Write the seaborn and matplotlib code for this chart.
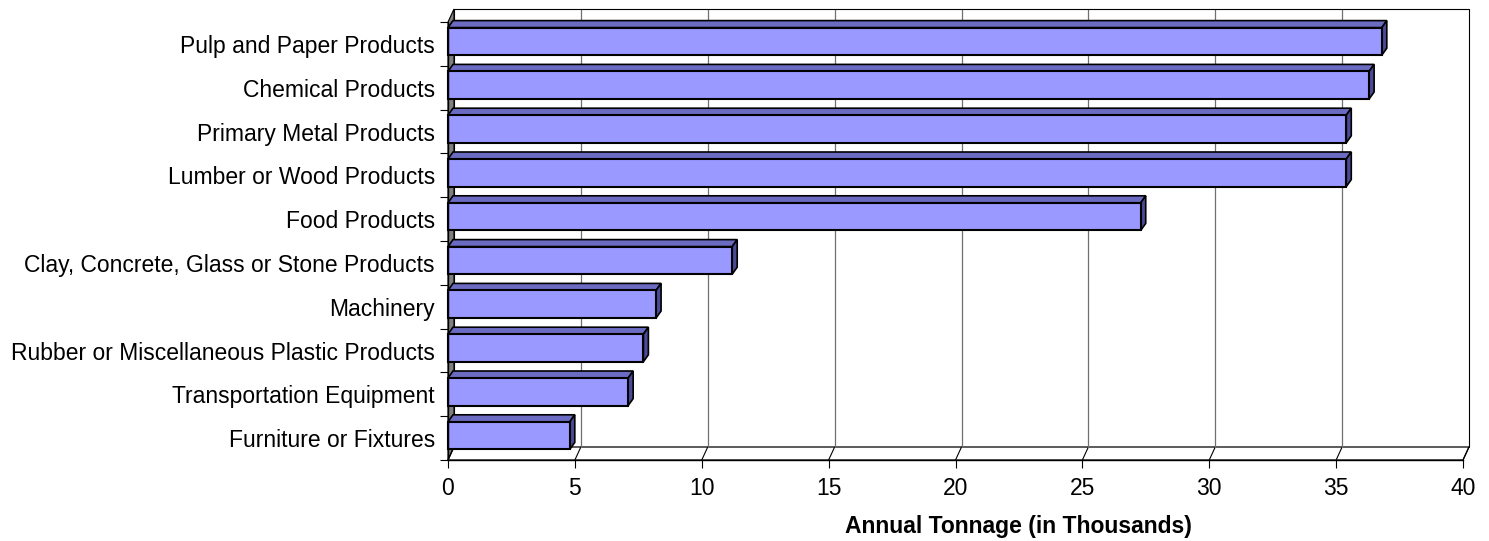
import numpy as np
import pandas as pd
import matplotlib
matplotlib.use("Agg")
import matplotlib.pyplot as plt
import seaborn as sns
from matplotlib.patches import Polygon
from matplotlib.transforms import ScaledTranslation, IdentityTransform
from matplotlib.ticker import FixedLocator

# ---- data -------------------------------------------------------------
categories = [
    "Pulp and Paper Products",
    "Chemical Products",
    "Primary Metal Products",
    "Lumber or Wood Products",
    "Food Products",
    "Clay, Concrete, Glass or Stone Products",
    "Machinery",
    "Rubber or Miscellaneous Plastic Products",
    "Transportation Equipment",
    "Furniture or Fixtures",
]
tonnage = [36.8, 36.3, 35.4, 35.4, 27.3, 11.2, 8.2, 7.7, 7.1, 4.8]
x_ticks = [0, 5, 10, 15, 20, 25, 30, 35, 40]
x_label = "Annual Tonnage (in Thousands)"

# ---- style ------------------------------------------------------------
FRONT = "#9999FF"
TOP = "#6B6BC2"
SIDE = "#4A4A96"
WALL_SIDE = "#808080"
GRID = "#707070"
FS = 16.5

sns.set_theme(style="white")
plt.rcParams["font.family"] = ["Liberation Sans", "DejaVu Sans"]

W, H = 1489, 541
DPI = 100
fig = plt.figure(figsize=(W / DPI, H / DPI), dpi=DPI)
fig.patch.set_facecolor("white")
ax = fig.add_axes([448 / W, (H - 460) / H, 1015 / W, 438 / H])

df = pd.DataFrame({"category": categories, "tonnage": tonnage})
sns.barplot(data=df, x="tonnage", y="category", orient="h", color=FRONT,
            saturation=1, width=0.63, edgecolor="black", linewidth=1.5,
            ax=ax, zorder=4)
bars = list(ax.patches)

n = len(categories)
ax.set_xlim(x_ticks[0], x_ticks[-1])
ax.set_ylim(n - 0.5, -0.5)
ax.autoscale(False)
ax.patch.set_visible(False)

# depth offsets (pixels) for the chart walls and for the bars
WALL_DX, WALL_DY = 6, 13
BAR_DX, BAR_DY = 5, 7
LIFT = 2.5

wall = ax.transData + ScaledTranslation(WALL_DX / DPI, WALL_DY / DPI, fig.dpi_scale_trans)
lift = ax.transData + ScaledTranslation(0, LIFT / DPI, fig.dpi_scale_trans)
ident = IdentityTransform()
to_disp = ax.transData.transform

ybot, ytop = n - 0.5, -0.5
xmin, xmax = x_ticks[0], x_ticks[-1]

# left side wall (gray)
(fx, fyb), (_, fyt) = to_disp((xmin, ybot)), to_disp((xmin, ytop))
ax.add_artist(Polygon([(fx, fyb), (fx, fyt), (fx + WALL_DX, fyt + WALL_DY),
                       (fx + WALL_DX, fyb + WALL_DY)], closed=True,
                      facecolor=WALL_SIDE, edgecolor="black", lw=0.8,
                      transform=ident, clip_on=False, zorder=0.5))

# floor (white)
(gx0, gy), (gx1, _) = to_disp((xmin, ybot)), to_disp((xmax, ybot))
ax.add_artist(Polygon([(gx0, gy), (gx1, gy), (gx1 + WALL_DX, gy + WALL_DY),
                       (gx0 + WALL_DX, gy + WALL_DY)], closed=True,
                      facecolor="white", edgecolor="black", lw=0.9,
                      transform=ident, clip_on=False, zorder=0.5))
for t in x_ticks:
    tx, ty = to_disp((t, ybot))
    ax.add_artist(plt.Line2D([tx, tx + WALL_DX], [ty, ty + WALL_DY], color="black",
                             lw=0.8, transform=ident, clip_on=False, zorder=0.6))

# back wall with vertical gridlines
for t in x_ticks[1:-1]:
    ax.plot([t, t], [ybot, ytop], transform=wall, color=GRID, lw=0.9,
            clip_on=False, zorder=0.7)
ax.plot([xmin, xmin, xmax, xmax], [ybot, ytop, ytop, ybot], transform=wall,
        color="black", lw=0.8, clip_on=False, zorder=0.8)

# 3-D bars: front face from seaborn, plus top and side faces
for p in bars:
    p.set_transform(lift)
    p.set_clip_on(False)
    x0, x1 = p.get_x(), p.get_x() + p.get_width()
    ya, yb = p.get_y(), p.get_y() + p.get_height()
    X0, Ya = lift.transform((x0, ya))
    X1, Yb = lift.transform((x1, yb))
    Yt, Ybm = max(Ya, Yb), min(Ya, Yb)
    ax.add_artist(Polygon([(X0, Yt), (X1, Yt), (X1 + BAR_DX, Yt + BAR_DY),
                           (X0 + BAR_DX, Yt + BAR_DY)], closed=True,
                          facecolor=TOP, edgecolor="black", lw=1.2,
                          transform=ident, clip_on=False, zorder=3.5))
    ax.add_artist(Polygon([(X1, Ybm), (X1, Yt), (X1 + BAR_DX, Yt + BAR_DY),
                           (X1 + BAR_DX, Ybm + BAR_DY)], closed=True,
                          facecolor=SIDE, edgecolor="black", lw=1.2,
                          transform=ident, clip_on=False, zorder=3.5))

# axes, ticks and labels
for s in ("top", "right"):
    ax.spines[s].set_visible(False)
for s in ("left", "bottom"):
    ax.spines[s].set_color("black")
    ax.spines[s].set_linewidth(1.0)
    ax.spines[s].set_zorder(5)

ax.set_xticks(x_ticks)
ax.set_xticklabels([str(t) for t in x_ticks])
ax.tick_params(axis="x", which="major", bottom=True, direction="out",
               length=5.8, width=0.8, color="black", pad=6.5,
               labelsize=FS, labelcolor="black")
ax.set_yticks(range(n))
ax.set_yticklabels(categories)
ax.tick_params(axis="y", which="major", left=False, length=0, pad=9.4,
               labelsize=FS, labelcolor="black")
ax.yaxis.set_minor_locator(FixedLocator(np.arange(n + 1) - 0.5))
ax.tick_params(axis="y", which="minor", left=True, direction="out",
               length=5.8, width=0.8, color="black")
ax.set_xlabel("")
ax.set_ylabel("")

fig.text(1018 / W, 1 - 527 / H, x_label, ha="center", va="center",
         fontsize=FS, fontweight="bold", color="black")

fig.savefig("out.png", dpi=DPI, facecolor="white")
